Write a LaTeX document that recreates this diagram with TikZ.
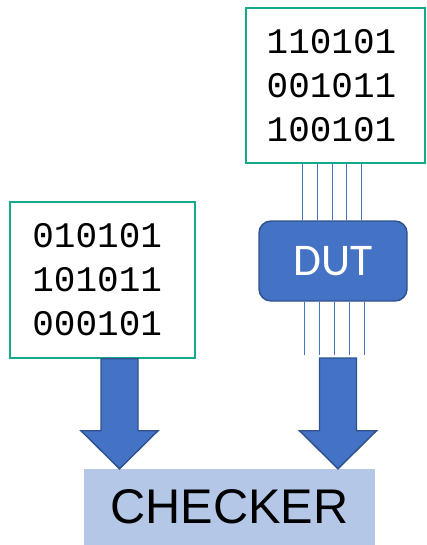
\documentclass[tikz,border=0pt]{standalone}
\usepackage{fontspec}
\setmainfont{Liberation Sans}
\newfontfamily\digitfont{Liberation Mono}
\newfontfamily\dutfont{Carlito}
\usetikzlibrary{calc}
\definecolor{boxgreen}{HTML}{13A98B}
\definecolor{dutblue}{HTML}{4472C4}
\definecolor{dutedge}{HTML}{2F528F}
\definecolor{checkfill}{HTML}{B4C7E7}
\begin{document}
\begin{tikzpicture}[x=0.75pt,y=-0.75pt,
  databox/.style={draw=boxgreen,line width=1.1pt,fill=white,inner sep=0pt,
    align=left,font=\digitfont\fontsize{27}{33}\selectfont},
  dutbox/.style={draw=dutedge,fill=dutblue,line width=1.1pt,rounded corners=9pt,
    minimum width=111pt,minimum height=60pt,text=white,
    font=\dutfont\fontsize{34}{40}\selectfont},
  checkbox/.style={fill=checkfill,minimum width=218.25pt,minimum height=57pt,
    font=\fontsize{36.5}{40}\selectfont},
  busline/.style={draw=dutblue,line width=0.6pt},
  fat/.style={draw=dutedge,fill=dutblue,line width=1.1pt,line join=miter,
    to path={($(\tikztostart)+(-18.5,0)$) -- ($(\tikztotarget)+(-18.5,-38)$)
      -- ($(\tikztotarget)+(-38.5,-38)$) -- (\tikztotarget)
      -- ($(\tikztotarget)+(38.5,-38)$) -- ($(\tikztotarget)+(18.5,-38)$)
      -- ($(\tikztostart)+(18.5,0)$) -- cycle}}]
\useasboundingbox (0,0) rectangle (426,545);

% input vectors and device under test
\node[databox,minimum width=134.25pt,minimum height=116.25pt] (rbox) at (335.5,85.5)
  {\hspace*{-6pt}110101\\\hspace*{-6pt}001011\\\hspace*{-6pt}100101};
\node[databox,minimum width=138.75pt,minimum height=117pt] (lbox) at (102.5,280)
  {\hspace*{-8pt}010101\\\hspace*{-8pt}101011\\\hspace*{-8pt}000101};
\node[dutbox] (dut) at (333,261) {DUT};
\node[checkbox] (checker) at (229.5,507) {CHECKER};

% bus into the DUT
\foreach \bx in {302,317,332,346,361}
  \draw[busline] (rbox.south -| \bx,0) -- (dut.north -| \bx,0);
% bus out of the DUT
\foreach \bx in {304,319,334,349,364}{
  \coordinate (bend\bx) at (\bx,355);
  \draw[busline] (dut.south -| \bx,0) -- (bend\bx);
}

% block arrows into the checker
\coordinate (lsrc) at ($(lbox.south)+(17,0)$);
\coordinate (rsrc) at (338,358);
\draw[fat] (lsrc) to (checker.north -| lsrc);
\draw[fat] (rsrc) to (checker.north -| rsrc);
\end{tikzpicture}
\end{document}
